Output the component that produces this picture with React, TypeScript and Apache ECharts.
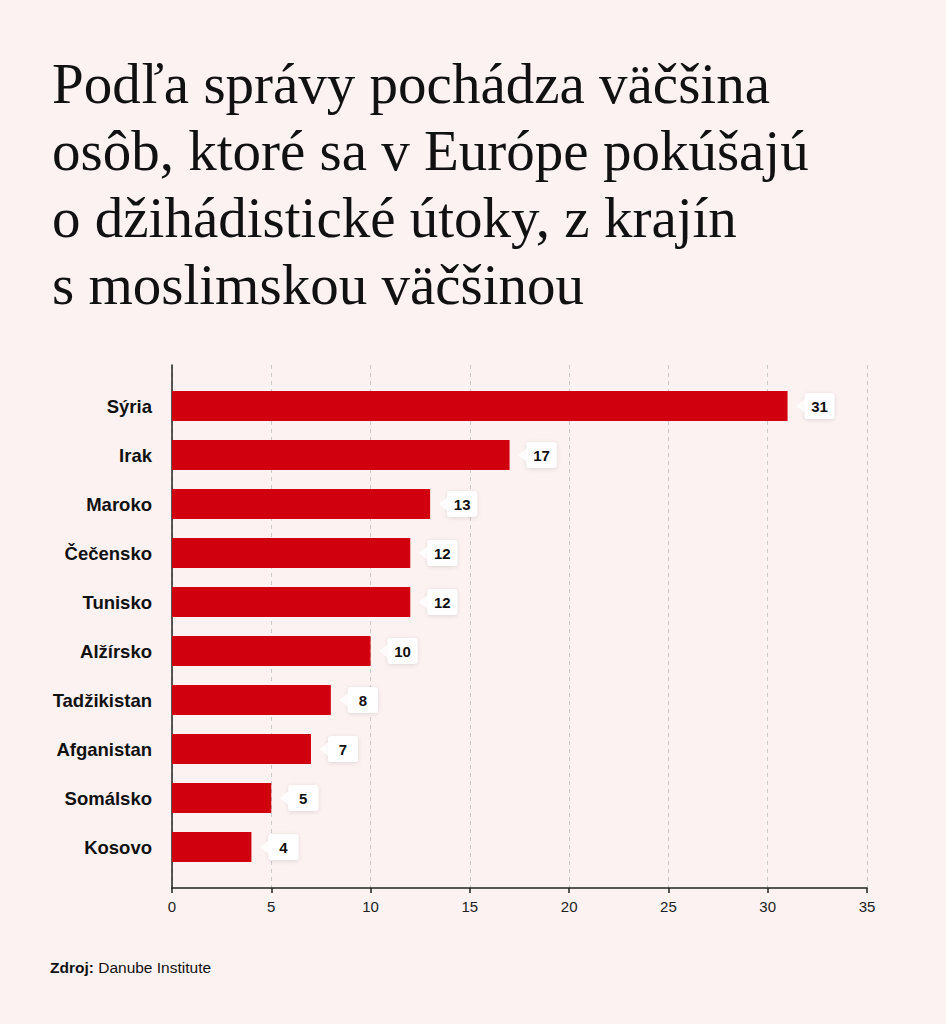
import React, { useEffect, useRef } from "react";
import * as echarts from "echarts";

const categories = [
  "Sýria",
  "Irak",
  "Maroko",
  "Čečensko",
  "Tunisko",
  "Alžírsko",
  "Tadžikistan",
  "Afganistan",
  "Somálsko",
  "Kosovo",
];
const values = [31, 17, 13, 12, 12, 10, 8, 7, 5, 4];
const xMin = 0;
const xMax = 35;
const xInterval = 5;

const titleText =
  "Podľa správy pochádza väčšina\nosôb, ktoré sa v Európe pokúšajú\no džihádistické útoky, z krajín\ns moslimskou väčšinou";
const sourceLabel = "Zdroj:";
const sourceName = " Danube Institute";

const BG = "#fdf2f2";
const RED = "#d0000f";
const SANS = "'Liberation Sans', Arial, Helvetica, sans-serif";
const SERIF = "'Liberation Serif', 'Times New Roman', Times, serif";

export default function App() {
  const ref = useRef<HTMLDivElement>(null);

  useEffect(() => {
    if (!ref.current) return;
    const chart = echarts.init(ref.current, undefined, { renderer: "svg" });
    const gridLeft = 172;
    const gridRight = 79;
    chart.setOption({
      animation: false,
      backgroundColor: BG,
      title: [
        {
          text: titleText,
          left: 47,
          top: 45,
          textStyle: {
            fontFamily: SERIF,
            fontSize: 57,
            fontWeight: "normal",
            lineHeight: 67,
            color: "#111",
          },
        },
        {
          text: "{b|" + sourceLabel + "}{r|" + sourceName + "}",
          left: 50,
          top: 959,
          padding: 0,
          textStyle: {
            fontWeight: "normal",
            rich: {
              b: { fontFamily: SANS, fontSize: 15.5, fontWeight: "bold", color: "#111" },
              r: { fontFamily: SANS, fontSize: 15.5, fontWeight: "normal", color: "#111" },
            },
          },
        },
      ],
      grid: [
        { left: gridLeft, right: gridRight, top: 365, bottom: 136 },
        { left: gridLeft, right: gridRight, top: 381.5, bottom: 152.5 },
      ],
      xAxis: [
        {
          type: "value",
          gridIndex: 0,
          min: xMin,
          max: xMax,
          interval: xInterval,
          axisLine: { show: true, lineStyle: { color: "#222", width: 1.5 } },
          axisTick: { show: true, length: 5, lineStyle: { color: "#222", width: 1.5 } },
          axisLabel: { fontFamily: SANS, fontSize: 15, color: "#222", margin: 11 },
          splitLine: { show: true, lineStyle: { color: "#c8c8c8", type: [4, 4], width: 1 } },
        },
        {
          type: "value",
          gridIndex: 1,
          min: xMin,
          max: xMax,
          interval: xInterval,
          show: false,
        },
      ],
      yAxis: [
        {
          type: "value",
          gridIndex: 0,
          min: 0,
          max: 1,
          axisLine: { show: true, lineStyle: { color: "#222", width: 1.5 } },
          axisTick: { show: false },
          axisLabel: { show: false },
          splitLine: { show: false },
        },
        {
          type: "category",
          gridIndex: 1,
          data: categories,
          inverse: true,
          axisLine: { show: false },
          axisTick: { show: false },
          axisLabel: {
            fontFamily: SANS,
            fontSize: 18.5,
            fontWeight: "bold",
            color: "#111",
            margin: 20,
          },
        },
      ],
      series: [
        {
          type: "bar",
          xAxisIndex: 1,
          yAxisIndex: 1,
          data: values,
          barWidth: 30,
          itemStyle: { color: RED },
          silent: true,
          label: {
            show: true,
            position: "right",
            distance: 17,
            formatter: "{v|{c}}",
            backgroundColor: "#ffffff",
            borderRadius: 3,
            padding: [6, 7],
            shadowColor: "rgba(0,0,0,0.12)",
            shadowBlur: 4,
            shadowOffsetY: 1,
            rich: {
              v: {
                width: 16,
                align: "center",
                fontFamily: SANS,
                fontSize: 15,
                fontWeight: "bold",
                color: "#111",
                lineHeight: 14,
              },
            },
          },
          z: 2,
        },
        {
          type: "scatter",
          xAxisIndex: 1,
          yAxisIndex: 1,
          data: values.map((v, i) => [v, categories[i]]),
          symbol: "triangle",
          symbolSize: [14, 9],
          symbolRotate: 90,
          symbolOffset: [13, 0],
          itemStyle: { color: "#ffffff" },
          silent: true,
          z: 3,
        },
      ],
    });
    return () => chart.dispose();
  }, []);

  return (
    <div
      ref={ref}
      style={{
        position: "fixed",
        left: 0,
        top: 0,
        width: 946,
        height: 1024,
        background: BG,
      }}
    />
  );
}
